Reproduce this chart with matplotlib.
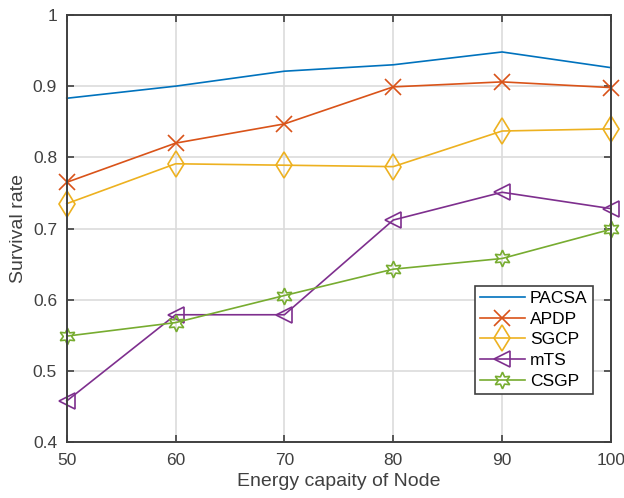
import matplotlib.pyplot as plt
import matplotlib.ticker as mticker

plt.rcParams['font.family'] = ['Liberation Sans', 'DejaVu Sans']

energy = [50, 60, 70, 80, 90, 100]
pacsa = [0.883, 0.900, 0.921, 0.930, 0.948, 0.926]
apdp = [0.765, 0.820, 0.847, 0.899, 0.906, 0.898]
sgcp = [0.735, 0.791, 0.789, 0.787, 0.837, 0.840]
mts = [0.458, 0.579, 0.579, 0.712, 0.751, 0.728]
csgp = [0.549, 0.568, 0.606, 0.643, 0.658, 0.699]

fig = plt.figure(figsize=(6.24, 4.98), dpi=100)
ax = fig.add_axes([0.107, 0.112, 0.872, 0.858])

kw = dict(lw=1.2, mew=1.2, mfc='none', clip_on=False)
ax.plot(energy, pacsa, color='#0072BD', lw=1.2, clip_on=False, label='PACSA')
ax.plot(energy, apdp, color='#D95319', marker='x', ms=11, label='APDP', **kw)
ax.plot(energy, sgcp, color='#EDB120', marker='d', ms=13, label='SGCP', **kw)
ax.plot(energy, mts, color='#7E2F8E', marker='<', ms=12, label='mTS', **kw)
ax.plot(energy, csgp, color='#77AC30', marker=(6, 1, 0), ms=12, label='CSGP', **kw)

ax.set_xlim(50, 100)
ax.set_ylim(0.4, 1)
ax.set_xticks(energy)
ax.set_yticks([0.4, 0.5, 0.6, 0.7, 0.8, 0.9, 1.0])
ax.yaxis.set_major_formatter(mticker.FuncFormatter(lambda v, p: f'{v:g}'))
ax.grid(True, color='#dcdcdc', lw=1.2)
ax.set_axisbelow(True)
ax.tick_params(direction='in', top=True, right=True, length=5, width=1.2,
               colors='#404040', labelsize=12.5, labelcolor='#404040')
ax.tick_params(axis='y', pad=7)
ax.tick_params(axis='x', pad=8)
for s in ax.spines.values():
    s.set_color('#404040')
    s.set_linewidth(1.4)

ax.set_xlabel('Energy capaity of Node', fontsize=14, color='#404040', labelpad=3)
ax.set_ylabel('Survival rate', fontsize=14, color='#404040', labelpad=4)

leg = ax.legend(loc='lower right', bbox_to_anchor=(0.967, 0.113), fontsize=12.5,
                fancybox=False, edgecolor='#404040', framealpha=1,
                handlelength=2.6, borderpad=0.3, labelspacing=0.32, handletextpad=0.3,
                borderaxespad=0)
leg.get_frame().set_linewidth(1.2)

fig.savefig('out.png', dpi=100)
